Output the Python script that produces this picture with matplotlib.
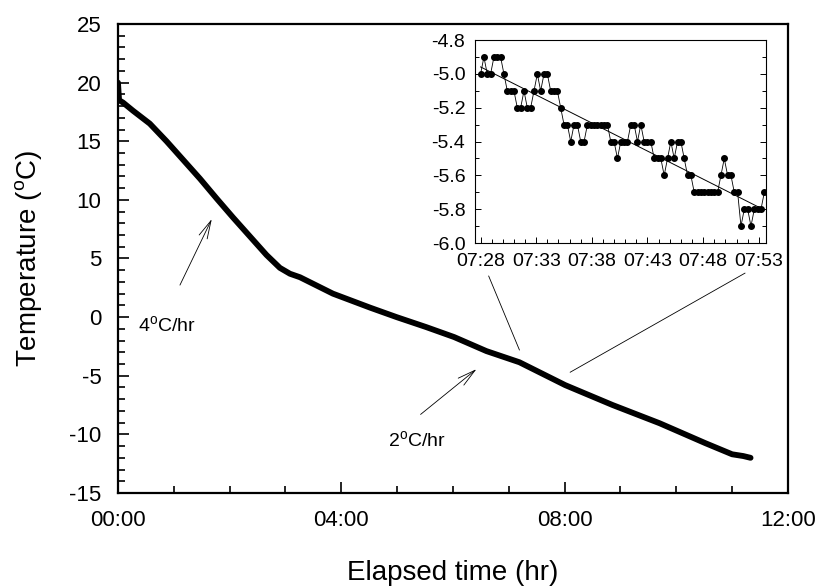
import matplotlib
matplotlib.use("Agg")
import matplotlib.pyplot as plt
import numpy as np
from matplotlib.ticker import MultipleLocator, FixedLocator, FormatStrFormatter

plt.rcParams['font.family'] = ['Liberation Sans', 'DejaVu Sans']
plt.rcParams['mathtext.default'] = 'regular'
plt.rcParams['axes.unicode_minus'] = False

# courbe principale (heures écoulées, degrés C)
elapsed_hr = [0.0, 0.02, 0.09, 0.27, 0.57, 0.87, 1.17, 1.47, 1.77, 2.06, 2.36,
              2.66, 2.90, 3.08, 3.26, 3.85, 4.52, 4.99, 5.52, 6.02, 6.60, 7.19,
              8.01, 8.86, 9.70, 10.52, 11.00, 11.20, 11.33]
temp_c = [20.0, 18.5, 18.3, 17.6, 16.5, 15.0, 13.4, 11.8, 10.1, 8.5, 6.9,
          5.3, 4.2, 3.7, 3.4, 2.0, 0.8, 0.0, -0.85, -1.7, -2.9, -3.85,
          -5.8, -7.5, -9.05, -10.75, -11.7, -11.85, -12.0]
main_ticks_hr = [0, 4, 8, 12]
main_tick_labels = ["00:00", "04:00", "08:00", "12:00"]

# encart : une lecture toutes les 18 s à partir de 07:28
inset_step_min = 0.3
inset_temp = [-5.0, -4.9, -5.0, -5.0, -4.9, -4.9, -4.9, -5.0, -5.1, -5.1,
              -5.1, -5.2, -5.2, -5.1, -5.2, -5.2, -5.1, -5.0, -5.1, -5.0,
              -5.0, -5.1, -5.1, -5.1, -5.2, -5.3, -5.3, -5.4, -5.3, -5.3,
              -5.4, -5.4, -5.3, -5.3, -5.3, -5.3, -5.3, -5.3, -5.3, -5.4,
              -5.4, -5.5, -5.4, -5.4, -5.4, -5.3, -5.3, -5.4, -5.3, -5.4,
              -5.4, -5.4, -5.5, -5.5, -5.5, -5.6, -5.5, -5.4, -5.5, -5.4,
              -5.4, -5.5, -5.6, -5.6, -5.7, -5.7, -5.7, -5.7, -5.7, -5.7,
              -5.7, -5.7, -5.6, -5.5, -5.6, -5.6, -5.7, -5.7, -5.9, -5.8,
              -5.8, -5.9, -5.8, -5.8, -5.8, -5.7]
inset_tick_min = [0, 5, 10, 15, 20, 25]
inset_tick_labels = ["07:28", "07:33", "07:38", "07:43", "07:48", "07:53"]

inset_min = np.arange(len(inset_temp)) * inset_step_min

fig = plt.figure(figsize=(8.29, 5.88), dpi=100)
ax = fig.add_axes([0.1423, 0.1616, 0.8082, 0.7976])

ax.plot(elapsed_hr, temp_c, color='black', lw=4.2, solid_capstyle='round',
        solid_joinstyle='round')
ax.set_xlim(0, 12)
ax.set_ylim(-15, 25)
ax.xaxis.set_major_locator(FixedLocator(main_ticks_hr))
ax.set_xticklabels(main_tick_labels)
ax.xaxis.set_minor_locator(MultipleLocator(1))
ax.yaxis.set_major_locator(MultipleLocator(5))
ax.yaxis.set_minor_locator(MultipleLocator(1))
ax.tick_params(which='both', direction='in', top=False, right=False,
               width=1.2, labelsize=16, pad=12)
ax.tick_params(which='major', length=8)
ax.tick_params(which='minor', length=5)
for s in ax.spines.values():
    s.set_linewidth(1.6)

ax.set_xlabel("Elapsed time (hr)", fontsize=20)
ax.set_ylabel("Temperature ($^o$C)", fontsize=20)
ax.xaxis.set_label_coords(0.5, -0.143)
ax.yaxis.set_label_coords(-0.11, 0.5)

# flèches et pentes
arrow = dict(arrowstyle='->,head_length=1.3,head_width=0.32', lw=0.6,
             color='black', shrinkA=0, shrinkB=0)
ax.annotate("", xy=(1.68, 8.36), xytext=(1.11, 2.73), arrowprops=arrow)
ax.annotate("", xy=(6.42, -4.44), xytext=(5.42, -8.3), arrowprops=arrow)
ax.text(0.36, -0.68, "4$^o$C/hr", fontsize=14, ha='left', va='center')
ax.text(4.83, -10.5, "2$^o$C/hr", fontsize=14, ha='left', va='center')

# traits de rappel vers l'encart
ax.plot([6.64, 7.19], [3.5, -2.8], color='black', lw=0.6)
ax.plot([11.23, 8.10], [3.75, -4.7], color='black', lw=0.6)

# encart
ins = fig.add_axes([0.573, 0.5867, 0.351, 0.345])
ins.plot(inset_min, inset_temp, color='black', lw=0.6, marker='o',
         markersize=4.0)
fit = np.polyfit(inset_min, inset_temp, 1)
ins.plot(inset_min, np.polyval(fit, inset_min), color='black', lw=0.7)
ins.set_xlim(-0.5, 25.65)
ins.set_ylim(-6.0, -4.8)
ins.xaxis.set_major_locator(FixedLocator(inset_tick_min))
ins.set_xticklabels(inset_tick_labels)
ins.xaxis.set_minor_locator(MultipleLocator(1))
ins.yaxis.set_major_locator(MultipleLocator(0.2))
ins.yaxis.set_minor_locator(MultipleLocator(0.1))
ins.yaxis.set_major_formatter(FormatStrFormatter('%.1f'))
ins.tick_params(which='both', direction='in', top=False, right=True,
                width=0.7, labelsize=14, pad=7)
ins.tick_params(which='major', length=4)
ins.tick_params(which='minor', length=3)
for s in ins.spines.values():
    s.set_linewidth(0.8)

fig.savefig("out.png", dpi=100)
